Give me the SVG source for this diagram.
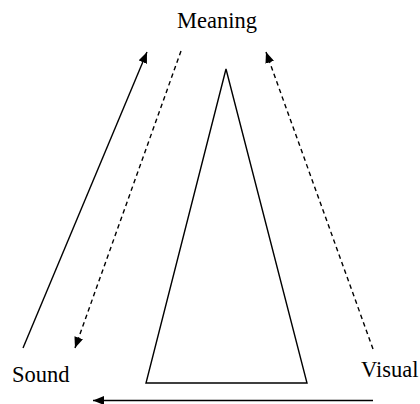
<svg xmlns="http://www.w3.org/2000/svg" width="420" height="404" viewBox="0 0 420 404">
<style>
.lbl{font-family:"Liberation Serif","Times New Roman",serif;font-size:22.5px;fill:#000}
.ln{stroke:#000;stroke-width:1.4;fill:none}
.dash{stroke-dasharray:4.5 3.5}
</style>
<defs>
<marker id="ah" viewBox="0 0 11 9" refX="11" refY="4.5" markerWidth="11" markerHeight="9" markerUnits="userSpaceOnUse" orient="auto">
<path d="M0,0 L11,4.5 L0,9 Z" fill="#000"/>
</marker>
</defs>
<rect width="420" height="404" fill="#fff"/>
<g id="meaning"><text class="lbl" x="177" y="28">Meaning</text></g>
<g id="sound"><text class="lbl" x="12" y="382">Sound</text></g>
<g id="visual"><text class="lbl" x="361" y="377">Visual</text></g>
<g id="triangle"><polygon class="ln" points="226,69 146,383 307,383"/></g>
<g id="connectors">
<line class="ln" x1="23" y1="348" x2="147" y2="52" marker-end="url(#ah)"/>
<line class="ln dash" x1="181" y1="51" x2="75" y2="348" marker-end="url(#ah)"/>
<line class="ln dash" x1="373" y1="349" x2="266" y2="52" marker-end="url(#ah)"/>
<line class="ln" x1="373" y1="400.5" x2="93" y2="400.5" marker-end="url(#ah)"/>
</g>
</svg>
